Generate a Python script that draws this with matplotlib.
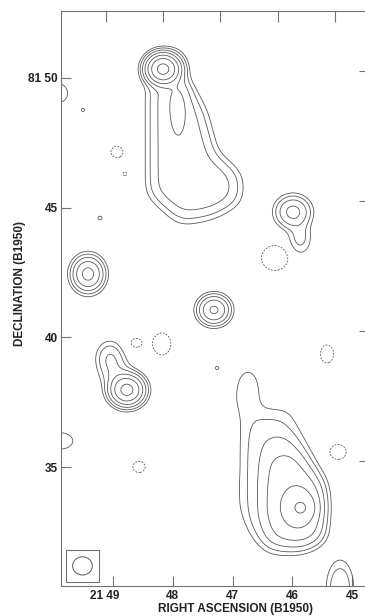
import numpy as np
import matplotlib
matplotlib.use('Agg')
import matplotlib.pyplot as plt
from matplotlib.path import Path
from matplotlib.patches import Rectangle, Ellipse
from matplotlib.transforms import ScaledTranslation

plt.rcParams['font.family'] = ['Liberation Sans', 'DejaVu Sans']
plt.rcParams['font.weight'] = 'bold'

# map window: RA in minutes of 21h, Dec in arcmin above +81 deg
ra_lim = (49.87, 44.766)
dec_lim = (30.45, 52.56)
beam_fwhm = (0.33, 0.70)          # RA min, Dec arcmin
levels = [1, 2, 4, 8, 16, 32, 64]  # multiples of the lowest contour

ra_ticks = [49, 48, 47, 46, 45]
ra_labels = ['21 49', '48', '47', '46', '45']
dec_ticks = [35, 40, 45, 50]
dec_labels = ['35', '40', '45', '81 50']

# compact components (peak in contour units, size in beams)
comp_ra   = [48.163, 47.912, 45.987, 45.870, 49.418, 47.310, 48.766, 49.050,
             48.950, 45.904, 45.837, 46.741, 45.201, 49.937, 49.887, 49.502,
             49.218, 47.259,
             46.289, 48.615, 48.180, 45.418, 48.565, 45.234, 48.933, 48.799]
comp_dec  = [50.327, 48.981, 44.827, 43.827, 42.442, 41.058, 37.981, 39.212,
             38.596, 33.481, 33.442, 38.135, 30.365, 49.404, 36.019, 48.750,
             44.596, 38.827,
             43.058, 39.789, 39.750, 39.365, 35.019, 35.596, 47.135, 46.288]
comp_peak = [80, 4.5, 10, 2.5, 20, 18, 40, 4.0,
             3.0, 12, 12, 1.6, 3.8, 2.2, 2.0, 1.02,
             1.03, 1.02,
             -2.9, -1.3, -2.0, -1.6, -1.3, -1.6, -1.3, -1.05]
comp_wra  = [1.0, 0.85, 1.15, 0.9, 1.0, 1.0, 1.05, 1.0,
             1.1, 1.45, 1.0, 1.1, 1.0, 1.0, 1.3, 1.0,
             1.0, 1.0,
             1.1, 0.9, 0.9, 0.8, 1.0, 1.0, 1.0, 0.7]
comp_wdec = [1.0, 3.2, 1.15, 1.4, 1.2, 1.0, 1.05, 1.3,
             1.2, 1.9, 1.0, 1.8, 2.2, 1.0, 0.9, 1.0,
             1.0, 1.0,
             1.1, 0.8, 1.2, 1.2, 1.0, 1.0, 1.0, 0.7]

# extended emission: nested plateaus (ra, dec) with added brightness
tail_1 = [(48.398, 49.904), (48.398, 45.481), (47.879, 44.327), (47.326, 44.596),
          (46.875, 45.173), (46.858, 46.250), (47.293, 47.135), (47.477, 48.673),
          (47.745, 49.827)]
tail_2 = [(48.331, 49.827), (48.331, 45.558), (47.862, 44.558), (47.343, 44.788),
          (46.941, 45.288), (46.925, 46.173), (47.343, 47.019), (47.544, 48.673),
          (47.795, 49.712)]
tail_3 = [(48.247, 49.712), (48.247, 45.673), (47.828, 44.865), (47.377, 45.019),
          (47.042, 45.442), (47.042, 46.135), (47.410, 46.904), (47.611, 48.673),
          (47.845, 49.596)]
south_1 = [(46.891, 37.904), (46.624, 37.788), (46.590, 37.250), (46.038, 37.250),
           (45.536, 34.442), (45.519, 32.212), (45.870, 31.788), (46.372, 31.712),
           (46.674, 32.404), (46.891, 33.481), (46.858, 35.673)]
south_2 = [(46.624, 36.635), (46.205, 36.712), (45.552, 34.442), (45.536, 32.212),
           (45.870, 31.904), (46.406, 31.981), (46.674, 32.904), (46.707, 35.288),
           (46.674, 36.365)]
south_3 = [(46.439, 36.058), (46.071, 36.173), (45.569, 34.365), (45.569, 32.288),
           (45.870, 32.019), (46.372, 32.096), (46.473, 32.981), (46.490, 35.288)]
south_4 = [(46.339, 35.288), (46.004, 35.481), (45.603, 34.135), (45.603, 32.404),
           (45.870, 32.212), (46.272, 32.327), (46.389, 33.173), (46.389, 34.519)]
plateaus = [tail_1, tail_2, tail_3, south_1, south_2, south_3, south_4]
plateau_level = [1.5, 1.5, 3.0, 1.8, 1.2, 3.0, 6.0]

# model grid
ra = np.linspace(44.4, 50.3, 354)
dec = np.linspace(29.8, 53.2, 608)
RA, DEC = np.meshgrid(ra, dec)
sig_ra = beam_fwhm[0] / 2.3548
sig_dec = beam_fwhm[1] / 2.3548

sky = np.zeros_like(RA)
pts = np.column_stack([RA.ravel(), DEC.ravel()])
for poly, b in zip(plateaus, plateau_level):
    inside = Path(poly).contains_points(pts).reshape(RA.shape)
    sky += b * inside


def kernel(s):
    n = int(4 * s) + 1
    t = np.arange(-n, n + 1)
    k = np.exp(-0.5 * (t / s) ** 2)
    return k / k.sum()


kx = kernel(sig_ra / (ra[1] - ra[0]))
ky = kernel(sig_dec / (dec[1] - dec[0]))
img = np.apply_along_axis(lambda m: np.convolve(m, kx, mode='same'), 1, sky)
img = np.apply_along_axis(lambda m: np.convolve(m, ky, mode='same'), 0, img)

for r0, d0, a, wr, wd in zip(comp_ra, comp_dec, comp_peak, comp_wra, comp_wdec):
    img += a * np.exp(-0.5 * ((RA - r0) / (wr * sig_ra)) ** 2
                      - 0.5 * ((DEC - d0) / (wd * sig_dec)) ** 2)

fig = plt.figure(figsize=(3.65, 6.16), dpi=100)
ax = fig.add_axes([61 / 365, 30.3 / 616, 305 / 365, 574.7 / 616])

line_c = '0.35'
ax.contour(RA, DEC, img, levels=levels, colors=line_c, linewidths=0.6)
ax.contour(RA, DEC, img, levels=[-1], colors=line_c, linewidths=0.6,
           linestyles=[(0, (2.2, 1.6))])

# restoring beam
bx0, bx1 = 49.787, 49.234
by0, by1 = 30.596, 31.827
ax.add_patch(Rectangle((bx1, by0), bx0 - bx1, by1 - by0, fill=False,
                       ec='0.45', lw=0.8))
ax.add_patch(Ellipse(((bx0 + bx1) / 2, (by0 + by1) / 2), beam_fwhm[0], beam_fwhm[1],
                     fill=False, ec=line_c, lw=0.7))

ax.set_xlim(*ra_lim)
ax.set_ylim(*dec_lim)

ax.set_xticks(ra_ticks)
ax.set_xticklabels(ra_labels)
ax.set_yticks(dec_ticks)
ax.set_yticklabels(dec_labels)
ax.tick_params(axis='x', direction='in', length=7.5, width=0.8, color='0.45',
               pad=3.0, labelsize=8.5, labelcolor='#222')
ax.tick_params(axis='y', direction='in', length=7.5, width=0.8, color='0.45',
               pad=2.2, labelsize=8.5, labelcolor='#222')
for s in ax.spines.values():
    s.set_color('0.45')
    s.set_linewidth(0.8)

lab0 = ax.get_xticklabels()[0]
lab0.set_horizontalalignment('right')
lab0.set_transform(lab0.get_transform() + ScaledTranslation(6 / 100, 0, fig.dpi_scale_trans))

# RA grid converges toward the pole: top ticks sit closer together
top = ax.secondary_xaxis('top', functions=(lambda x: 49 - (49.117 - x) / 0.958,
                                           lambda t: 49.117 - (49 - t) * 0.958))
top.set_xticks(ra_ticks)
top.set_xticklabels([])
top.tick_params(direction='in', length=8, width=0.8, color='0.45')
top.spines['top'].set_visible(False)

right = ax.secondary_yaxis('right', functions=(lambda y: y - 0.25, lambda y: y + 0.25))
right.set_yticks(dec_ticks)
right.set_yticklabels([])
right.tick_params(direction='in', length=5, width=0.8, color='0.45')
right.spines['right'].set_visible(False)

fig.text(235 / 365, 1 - 609 / 616, 'RIGHT ASCENSION (B1950)', ha='center', va='center',
         fontsize=8.5, fontweight='bold', color='#222')
fig.text(20 / 365, 1 - 284 / 616, 'DECLINATION (B1950)', ha='center', va='center',
         rotation=90, fontsize=8.5, fontweight='bold', color='#222')

fig.savefig('out.png', dpi=100, facecolor='white')
